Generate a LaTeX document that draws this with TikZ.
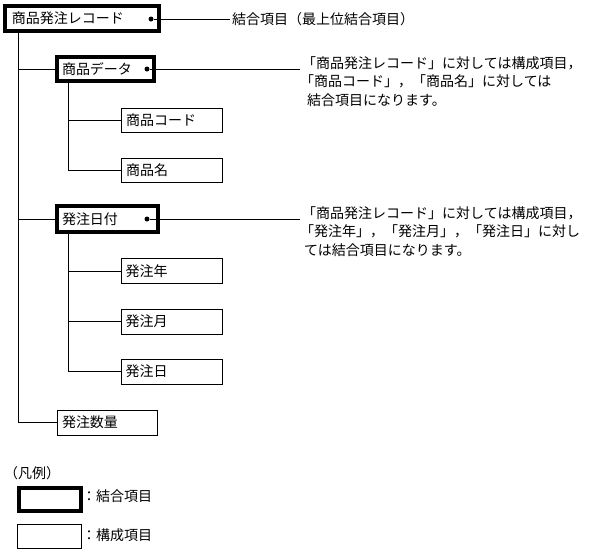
\documentclass[tikz,border=0pt]{standalone}
\usepackage{fontspec}
\setmainfont{Noto Sans CJK JP}
\begin{document}
\begin{tikzpicture}[x=1pt,y=-1pt,
  every node/.style={font=\fontsize{14}{18.5}\selectfont},
  jbox/.style={draw, line width=4pt, rectangle, inner ysep=0pt, align=left},
  kbox/.style={draw, line width=1pt, rectangle, inner ysep=0pt, align=left},
  conn/.style={line width=1pt},
  dot/.style={circle, fill=black, inner sep=0pt, minimum size=5pt},
  note/.style={inner sep=0pt, align=left}]
\useasboundingbox (0,0) rectangle (590,552);

% boxes
\node[jbox, minimum width=154pt, minimum height=25pt, inner xsep=7pt, text width=140pt] (top) at (82,18.5) {商品発注レコード};
\node[jbox, minimum width=97pt, minimum height=24pt, inner xsep=5pt, text width=87pt] (data) at (105.5,69) {商品データ};
\node[kbox, minimum width=101pt, minimum height=24pt, inner xsep=4.5pt, text width=92pt] (code) at (172,120) {商品コード};
\node[kbox, minimum width=101pt, minimum height=24pt, inner xsep=4.5pt, text width=92pt] (name) at (172,170) {商品名};
\node[jbox, minimum width=101pt, minimum height=26pt, inner xsep=5pt, text width=91pt] (date) at (107.5,219) {発注日付};
\node[kbox, minimum width=101pt, minimum height=25pt, inner xsep=4.5pt, text width=92pt] (year) at (171.5,271) {発注年};
\node[kbox, minimum width=101pt, minimum height=25pt, inner xsep=4.5pt, text width=92pt] (month) at (171.5,321.5) {発注月};
\node[kbox, minimum width=101pt, minimum height=25pt, inner xsep=4.5pt, text width=92pt] (day) at (171.5,371.5) {発注日};
\node[kbox, minimum width=100pt, minimum height=25pt, inner xsep=5pt, text width=90pt] (qty) at (107,422.5) {発注数量};

% dots
\node[dot] (d1) at (151,19) {};
\node[dot] (d2) at (147,69) {};
\node[dot] (d3) at (147,219) {};

% notes
\node[note, anchor=west] (n1) at (232,19) {結合項目（最上位結合項目）};
\node[note, anchor=north west] (n2) at (300,56) {\hspace{2pt}「商品発注レコード」に対しては構成項目，\\「商品コード」，「商品名」に対しては\\\hspace{7pt}結合項目になります。};
\node[note, anchor=north west] (n3) at (300,206) {\hspace{2pt}「商品発注レコード」に対しては構成項目，\\「発注年」，「発注月」，「発注日」に対し\\\hspace{4pt}ては結合項目になります。};

\draw[conn, shorten >=2pt] (d1) -- (d1 -| n1.west);
\draw[conn] (d2) -- (d2 -| n2.west);
\draw[conn] (d3) -- (d3 -| n3.west);

% tree connectors
\coordinate (mainx) at (18,0);
\draw[conn] (top.south -| mainx) -- (qty.west -| mainx) -- (qty.west);
\draw[conn] (data.west -| mainx) -- (data.west);
\draw[conn] (date.west -| mainx) -- (date.west);
\coordinate (subx) at (68,0);
\draw[conn] (data.south -| subx) -- (name.west -| subx) -- (name.west);
\draw[conn] (code.west -| subx) -- (code.west);
\draw[conn] (date.south -| subx) -- (day.west -| subx) -- (day.west);
\draw[conn] (year.west -| subx) -- (year.west);
\draw[conn] (month.west -| subx) -- (month.west);

% legend
\node[note, anchor=west] (lg) at (4,473) {（凡例）};
\node[jbox, minimum width=62pt, minimum height=23pt] (lj) at (50,499.5) {};
\node[kbox, minimum width=64pt, minimum height=24pt] (lk) at (49.5,536.5) {};
\node[note, anchor=west] (lj2) at (82,496) {：結合項目};
\node[note, anchor=west] (lk2) at (82,535) {：構成項目};
\end{tikzpicture}
\end{document}
